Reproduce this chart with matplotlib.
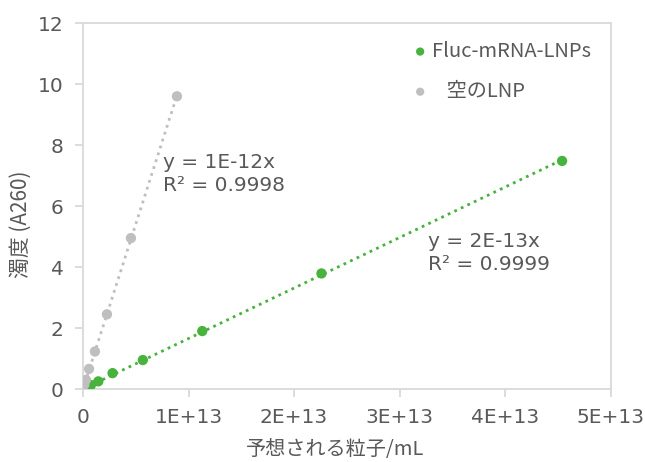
import numpy as np
import matplotlib.pyplot as plt

plt.rcParams['font.family'] = ['DejaVu Sans', 'Noto Sans CJK JP']

# estimated particles/mL (x) and turbidity A260 (y)
fluc_x = [4.54e13, 2.26e13, 1.13e13, 0.567e13, 0.28e13, 0.145e13, 0.075e13]
fluc_y = [7.48, 3.79, 1.90, 0.95, 0.52, 0.25, 0.13]
empty_x = [0.89e13, 0.454e13, 0.227e13, 0.113e13, 0.057e13, 0.028e13, 0.012e13]
empty_y = [9.6, 4.95, 2.45, 1.23, 0.66, 0.30, 0.14]

xticks = [0, 1e13, 2e13, 3e13, 4e13, 5e13]
xtick_labels = ['0', '1E+13', '2E+13', '3E+13', '4E+13', '5E+13']
yticks = [0, 2, 4, 6, 8, 10, 12]

green = '#47b33d'
gray = '#bfbfbf'
text_col = '#595959'
grid_col = '#d9d9d9'
cjk = ['Noto Sans CJK JP', 'DejaVu Sans']

fig = plt.figure(figsize=(6.45, 4.62), dpi=100)
ax = fig.add_axes([0.1287, 0.158, 0.818, 0.792])

for xs, ys, col, lab in [(fluc_x, fluc_y, green, 'Fluc-mRNA-LNPs'),
                         (empty_x, empty_y, gray, '\u2002 空のLNP')]:
    xs = np.array(xs)
    ys = np.array(ys)
    # linear trendline through origin
    k = np.sum(xs * ys) / np.sum(xs ** 2)
    xl = np.array([0, xs.max()])
    ax.plot(xl, k * xl, linestyle=(0, (1, 1.6)), color=col, lw=2, zorder=2)
    ax.scatter(xs, ys, s=55, color=col, label=lab, zorder=3, edgecolors='none')

ax.set_xlim(0, 5e13)
ax.set_ylim(0, 12)
ax.set_xticks(xticks)
ax.set_xticklabels(xtick_labels)
ax.set_yticks(yticks)
for s in ax.spines.values():
    s.set_color(grid_col)
    s.set_linewidth(1.3)
ax.tick_params(colors=grid_col, labelcolor=text_col, labelsize=14.5,
               length=6, width=1.3, direction='out')
ax.tick_params(axis='x', pad=8)
ax.tick_params(axis='y', pad=8)

ax.set_xlabel('予想される粒子/mL', family=cjk, fontsize=14.5, color=text_col)
ax.xaxis.set_label_coords(0.477, -0.137)
ax.set_ylabel('濁度 (A260)', family=cjk, fontsize=15, color=text_col)
ax.yaxis.set_label_coords(-0.098, 0.45)

ax.text(0.152, 0.587, 'y = 1E-12x\nR² = 0.9998', transform=ax.transAxes,
        fontsize=14.5, color=text_col, linespacing=1.3, va='center')
ax.text(0.653, 0.372, 'y = 2E-13x\nR² = 0.9999', transform=ax.transAxes,
        fontsize=14.5, color=text_col, linespacing=1.3, va='center')

leg = ax.legend(loc='upper right', bbox_to_anchor=(0.99, 0.99), frameon=False,
                prop={'family': cjk, 'size': 14.5},
                handlelength=0.8, handletextpad=0.2, labelspacing=0.95,
                markerscale=0.8, borderaxespad=0.3)
for t in leg.get_texts():
    t.set_color(text_col)

fig.savefig('out.png', dpi=100)
